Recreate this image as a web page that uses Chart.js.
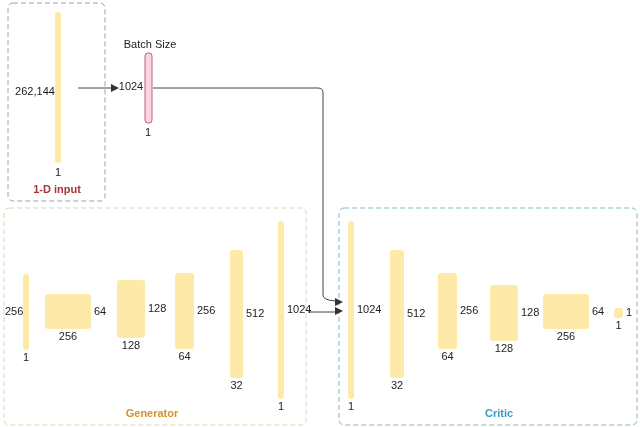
<!DOCTYPE html>
<html><head><meta charset="utf-8">
<script src="https://cdn.jsdelivr.net/npm/chart.js@4"></script>
<style>html,body{margin:0;padding:0;background:#fff}#wrap{width:640px;height:427px}</style>
</head><body><div id="wrap"><canvas id="c"></canvas></div>
<script>
// layer labels (data)
const genSideLabels = ['256', '64', '128', '256', '512', '1024'];
const genBottomLabels = ['1', '256', '128', '64', '32', '1'];
const criticSideLabels = ['1024', '512', '256', '128', '64', '1'];
const criticBottomLabels = ['1', '32', '64', '128', '256', '1'];
const groupTitles = ['1-D input', 'Generator', 'Critic'];

// layout in diagram units [x0, x1, y0, y1]
const genRects = [[23,29,274,350],[45,91,294,329],[117,145,280,338],[175,194,273,349],[230,243,250,378],[278,284,221,399]];
const criticRects = [[348,354,221,399],[390,404,250,378],[438,457,273,349],[490,518,285,341],[543,589,294,329],[614,623,308,318]];

const fill = '#fdeaa8';
const font = '11px "Liberation Sans", Arial, sans-serif';

function rr(ctx, x, y, w, h, r) {
    ctx.beginPath();
    ctx.roundRect(x, y, w, h, r);
}

const diagram = {
    id: 'diagram',
    afterDraw(chart) {
        const ctx = chart.ctx, sx = chart.scales.x, sy = chart.scales.y;
        const X = v => sx.getPixelForValue(v), Y = v => sy.getPixelForValue(v);
        const text = (s, x, y, align, color, bold) => {
            ctx.fillStyle = color || '#222';
            ctx.font = (bold ? 'bold ' : '') + font;
            ctx.textAlign = align || 'center';
            ctx.textBaseline = 'middle';
            ctx.fillText(s, X(x), Y(y));
        };
        const box = (r, stroke, lw) => {
            rr(ctx, X(r[0]), Y(r[2]), X(r[1]) - X(r[0]), Y(r[3]) - Y(r[2]), Math.min(3, (X(r[1]) - X(r[0])) / 2));
            ctx.fillStyle = fill; ctx.fill();
            if (stroke) { ctx.strokeStyle = stroke; ctx.lineWidth = lw || 1; ctx.stroke(); }
        };
        const dashed = (r, color) => {
            ctx.save();
            ctx.setLineDash([5, 3]);
            ctx.strokeStyle = color; ctx.lineWidth = 1;
            rr(ctx, X(r[0]), Y(r[2]), X(r[1]) - X(r[0]), Y(r[3]) - Y(r[2]), 5);
            ctx.stroke();
            ctx.restore();
        };
        const arrowHead = (x, y) => {
            ctx.fillStyle = '#333';
            ctx.beginPath();
            ctx.moveTo(X(x), Y(y));
            ctx.lineTo(X(x) - 8, Y(y) - 4);
            ctx.lineTo(X(x) - 8, Y(y) + 4);
            ctx.closePath(); ctx.fill();
        };
        ctx.save();
        // group frames
        dashed([8, 105, 3, 201], '#a0a0a0');
        dashed([4, 306, 208, 425], '#d8d8a8');
        dashed([339, 637, 208, 425], '#88b8b4');
        text(groupTitles[0], 57, 190, 'center', '#a3343a', true);
        text(groupTitles[1], 152, 414, 'center', '#d4922c', true);
        text(groupTitles[2], 499, 414, 'center', '#3a9cc4', true);

        // input vector
        box([55, 61, 12, 163]);
        text('262,144', 35, 92);
        text('1', 58, 173);
        // batch
        ctx.strokeStyle = '#444'; ctx.lineWidth = 1;
        ctx.beginPath(); ctx.moveTo(X(78), Y(88)); ctx.lineTo(X(116), Y(88)); ctx.stroke();
        arrowHead(119, 88);
        rr(ctx, X(145), Y(53), X(152) - X(145), Y(123) - Y(53), 3);
        ctx.fillStyle = '#f9d3df'; ctx.fill(); ctx.strokeStyle = '#c0607c'; ctx.stroke();
        text('Batch Size', 150, 45);
        text('1024', 131, 87);
        text('1', 148, 133);
        // route to critic
        ctx.strokeStyle = '#444';
        ctx.beginPath();
        ctx.moveTo(X(153), Y(88)); ctx.lineTo(X(318), Y(88));
        ctx.quadraticCurveTo(X(323), Y(88), X(323), Y(93));
        ctx.lineTo(X(323), Y(295));
        ctx.quadraticCurveTo(X(323), Y(300), X(335), Y(301));
        ctx.stroke();
        arrowHead(343, 302);
        ctx.beginPath(); ctx.moveTo(X(308), Y(312)); ctx.lineTo(X(336), Y(312)); ctx.stroke();
        arrowHead(343, 311);

        // generator / critic layers
        genRects.forEach((r, i) => {
            box(r);
            const cx = (r[0] + r[1]) / 2, cy = (r[2] + r[3]) / 2;
            if (i === 0) text(genSideLabels[i], 5, cy, 'left');
            else text(genSideLabels[i], r[1] + 3, cy, 'left');
            text(genBottomLabels[i], cx, r[3] + 8);
        });
        criticRects.forEach((r, i) => {
            box(r);
            const cx = (r[0] + r[1]) / 2, cy = (r[2] + r[3]) / 2;
            text(criticSideLabels[i], r[1] + 3, cy, 'left');
            text(criticBottomLabels[i], cx, r[3] + 8);
        });
        ctx.restore();
    }
};

new Chart(document.getElementById('c').getContext('2d'), {
    type: 'scatter',
    data: { datasets: [{ data: [] }] },
    options: {
        responsive: true,
        maintainAspectRatio: false,
        animation: false,
        layout: { padding: 0 },
        plugins: { legend: { display: false }, tooltip: { enabled: false } },
        scales: {
            x: { type: 'linear', min: 0, max: 640, display: false },
            y: { type: 'linear', min: 0, max: 427, reverse: true, display: false }
        }
    },
    plugins: [diagram]
});
</script>
</body></html>
